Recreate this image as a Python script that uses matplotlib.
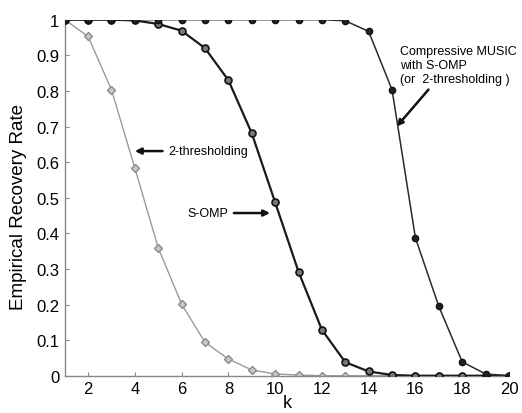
import matplotlib
matplotlib.use("Agg")
import matplotlib.pyplot as plt

k = list(range(1, 21))
music = [1, 1, 1, 1, 1, 1, 1, 1, 1, 1, 1, 1, 0.997, 0.967, 0.803, 0.387, 0.195, 0.039, 0.005, 0.0]
somp = [1, 1, 1, 0.998, 0.988, 0.969, 0.92, 0.83, 0.681, 0.487, 0.292, 0.129, 0.038, 0.012, 0.002, 0, 0, 0, 0, 0]
thresh = [1, 0.953, 0.803, 0.583, 0.359, 0.201, 0.094, 0.047, 0.016, 0.005, 0.002, 0, 0, 0, 0, 0, 0, 0, 0, 0]
xticks = [2, 4, 6, 8, 10, 12, 14, 16, 18, 20]
yticks = [0, 0.1, 0.2, 0.3, 0.4, 0.5, 0.6, 0.7, 0.8, 0.9, 1]
yticklabels = ["0", "0.1", "0.2", "0.3", "0.4", "0.5", "0.6", "0.7", "0.8", "0.9", "1"]

plt.rcParams['font.family'] = ['Liberation Sans', 'DejaVu Sans']

fig = plt.figure(figsize=(5.22, 4.14), dpi=100)
ax = fig.add_axes([0.124, 0.090, 0.851, 0.860])

ax.plot(k, thresh, color='#9a9a9a', lw=1.0, marker='D', ms=4,
        mfc='#c8c8c8', mec='#8a8a8a', mew=1.0, zorder=2)
ax.plot(k, somp, color='#1a1a1a', lw=1.6, marker='o', ms=5,
        mfc='#777777', mec='#111111', mew=1.2, zorder=3)
ax.plot(k, music, color='#2a2a2a', lw=1.1, marker='o', ms=4.5,
        mfc='#222222', mec='#111111', mew=1.0, zorder=4)

ax.set_xlim(1, 20)
ax.set_ylim(0, 1)
ax.set_xticks(xticks)
ax.set_yticks(yticks)
ax.set_yticklabels(yticklabels)
ax.tick_params(direction='in', length=3, width=0.8, color='#888888',
               labelsize=12, pad=4)
for s in ['top', 'right']:
    ax.spines[s].set_visible(False)
for s in ['left', 'bottom']:
    ax.spines[s].set_color('#888888')
    ax.spines[s].set_linewidth(1.0)
    ax.spines[s].set_linestyle((0, (1, 1)))

ax.set_xlabel('k', fontsize=13, labelpad=-2)
ax.set_ylabel('Empirical Recovery Rate', fontsize=13.5)
ax.yaxis.set_label_coords(-0.085, 0.477)

arrow = dict(arrowstyle='-|>', color='#111111', lw=1.8, mutation_scale=9)
ax.annotate('2-thresholding', xy=(3.88, 0.631), xytext=(5.42, 0.631),
            fontsize=9, va='center', ha='left', arrowprops=arrow)
ax.annotate('S-OMP', xy=(9.9, 0.457), xytext=(6.25, 0.457),
            fontsize=9, va='center', ha='left', arrowprops=arrow)
ax.annotate('Compressive MUSIC\nwith S-OMP\n(or  2-thresholding )',
            xy=(15.2, 0.70), xytext=(15.34, 0.873),
            fontsize=9, va='center', ha='left', linespacing=1.2,
            arrowprops=dict(arrowstyle='-|>', color='#111111', lw=1.8,
                            mutation_scale=9, shrinkA=2, shrinkB=0,
                            relpos=(0.28, 0.0)))

fig.savefig('out.png', dpi=100)
